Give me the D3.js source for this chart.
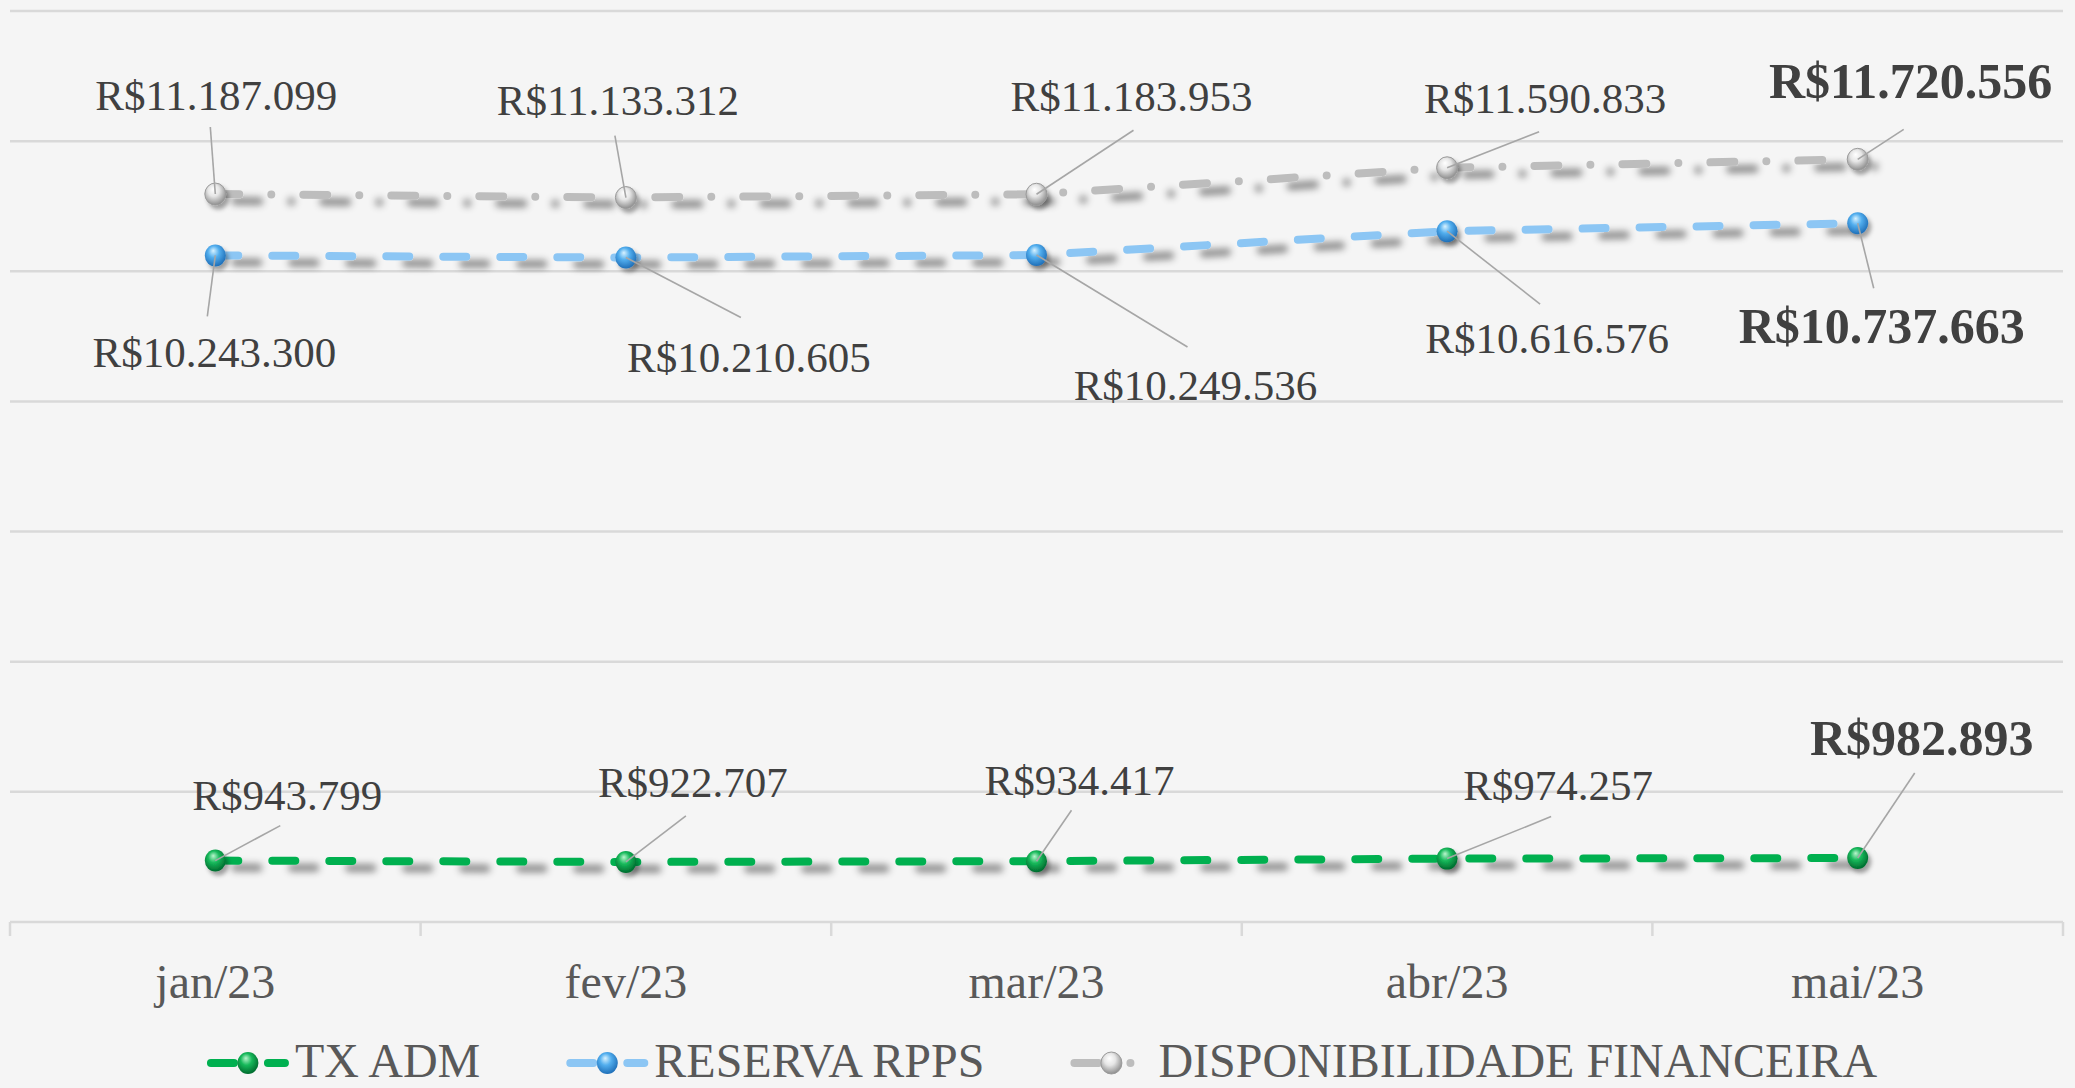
<!DOCTYPE html>
<html>
<head>
<meta charset="utf-8">
<script src="https://cdn.jsdelivr.net/npm/d3@7"></script>
<style>
  html, body { margin: 0; padding: 0; background: #F5F5F5; }
  svg { display: block; }
</style>
</head>
<body>
<svg id="chart" width="2075" height="1088"></svg>
<script>
// ---------------- data ----------------
const categories = ["jan/23", "fev/23", "mar/23", "abr/23", "mai/23"];
const txAdm = [943799, 922707, 934417, 974257, 982893];
const reservaRpps = [10243300, 10210605, 10249536, 10616576, 10737663];
const dispFinanceira = [11187099, 11133312, 11183953, 11590833, 11720556];
const seriesNames = ["TX ADM", "RESERVA RPPS", "DISPONIBILIDADE FINANCEIRA"];
const yTicks = [0, 2000000, 4000000, 6000000, 8000000, 10000000, 12000000, 14000000];

// ---------------- layout / style ----------------
const W = 2075, H = 1088;
const plot = { left: 10, right: 2063, top: 11, bottom: 922 };
const colors = { tx: "#00B050", res: "#8CC6F4", disp: "#BDBDBD" };
// label offsets relative to the point: [labelDx, labelDy(baseline), leaderDx, leaderDy]
const labelLayout = {
  disp: [[1, -84, -5, -67], [-8, -83, -11, -62], [95, -83, 97, -64], [98, -55, 92, -36], [53, -61, 46, -30]],
  res:  [[-1, 112, -8, 61], [123, 114, 115, 60], [159, 145, 151, 92], [100, 122, 93, 73], [24, 120, 16, 65]],
  tx:   [[72, -51, 65, -35], [67, -65, 60, -46], [43, -66, 35, -51], [111, -59, 104, -42], [64, -103, 57, -85]]
};

const svg = d3.select("#chart");
const defs = svg.append("defs");

// background
svg.append("rect").attr("width", W).attr("height", H).attr("fill", "#F5F5F5");

// shadow filter (user space so flat lines are not clipped)
function makeShadow(id, dx, dy, blur, op) {
  const f = defs.append("filter").attr("id", id)
    .attr("filterUnits", "userSpaceOnUse")
    .attr("x", 0).attr("y", 0).attr("width", W).attr("height", H);
  f.append("feGaussianBlur").attr("in", "SourceAlpha").attr("stdDeviation", blur).attr("result", "b");
  f.append("feOffset").attr("in", "b").attr("dx", dx).attr("dy", dy).attr("result", "o");
  f.append("feFlood").attr("flood-color", "#000").attr("flood-opacity", op).attr("result", "c");
  f.append("feComposite").attr("in", "c").attr("in2", "o").attr("operator", "in").attr("result", "s");
  const m = f.append("feMerge");
  m.append("feMergeNode").attr("in", "s");
  m.append("feMergeNode").attr("in", "SourceGraphic");
}
makeShadow("lineShadow", 20, 7, 3.5, 0.42);
makeShadow("dotShadow", 3, 4, 2, 0.35);

// sphere gradients
function sphere(id, c0, c1, c2) {
  const g = defs.append("radialGradient").attr("id", id)
    .attr("cx", "45%").attr("cy", "40%").attr("r", "60%").attr("fx", "40%").attr("fy", "28%");
  g.append("stop").attr("offset", "0%").attr("stop-color", c0);
  g.append("stop").attr("offset", "45%").attr("stop-color", c1);
  g.append("stop").attr("offset", "100%").attr("stop-color", c2);
}
sphere("gTx", "#B8F5CC", "#16B85A", "#006B2E");
sphere("gRes", "#D8F2FF", "#52AEEE", "#1F6FB8");
sphere("gDisp", "#FFFFFF", "#E6E6E6", "#8E8E8E");

// scales
const x = d3.scaleBand().domain(categories).range([plot.left, plot.right]).padding(0);
const y = d3.scaleLinear().domain([0, 14000000]).range([plot.bottom, plot.top]);
const cx = c => x(c) + x.bandwidth() / 2;

// gridlines
svg.append("g").selectAll("line").data(yTicks.slice(1)).join("line")
  .attr("x1", plot.left).attr("x2", plot.right)
  .attr("y1", d => y(d)).attr("y2", d => y(d))
  .attr("stroke", "#D9D9D9").attr("stroke-width", 2.5);

// x axis
const xAxis = d3.axisBottom(x).tickSize(0).tickPadding(0);
const axG = svg.append("g").attr("transform", `translate(0,${y(0)})`).call(xAxis);
axG.select(".domain").remove();
axG.selectAll(".tick text")
  .attr("y", 76).attr("dy", 0)
  .attr("font-family", "'Liberation Serif', 'Times New Roman', serif")
  .attr("font-size", 48).attr("fill", "#595959");
svg.append("line").attr("x1", plot.left).attr("x2", plot.right)
  .attr("y1", y(0)).attr("y2", y(0)).attr("stroke", "#D9D9D9").attr("stroke-width", 2.5);
const boundaries = categories.map(c => x(c)).concat([plot.right]);
svg.append("g").selectAll("line").data(boundaries).join("line")
  .attr("x1", d => d).attr("x2", d => d)
  .attr("y1", y(0)).attr("y2", y(0) + 14)
  .attr("stroke", "#D9D9D9").attr("stroke-width", 2.5);

// series
const series = [
  { key: "tx", name: seriesNames[0], values: txAdm, color: colors.tx, dash: "23,34", grad: "gTx" },
  { key: "res", name: seriesNames[1], values: reservaRpps, color: colors.res, dash: "23,34", grad: "gRes" },
  { key: "disp", name: seriesNames[2], values: dispFinanceira, color: colors.disp, dash: "24,32,0,32", grad: "gDisp" }
];

const line = d3.line().x((d, i) => cx(categories[i])).y(d => y(d));

const linesG = svg.append("g");
series.forEach(s => {
  linesG.append("path").datum(s.values)
    .attr("d", line)
    .attr("fill", "none")
    .attr("stroke", s.color)
    .attr("stroke-width", 8)
    .attr("stroke-linecap", "round")
    .attr("stroke-dasharray", s.dash)
    .attr("filter", "url(#lineShadow)");
});

const dotsG = svg.append("g");
series.forEach(s => {
  dotsG.selectAll(null).data(s.values).join("ellipse")
    .attr("cx", (d, i) => cx(categories[i]))
    .attr("cy", d => y(d))
    .attr("rx", 10.5).attr("ry", 11)
    .attr("fill", `url(#${s.grad})`)
    .attr("stroke", s.key === "disp" ? "#9A9A9A" : "none")
    .attr("stroke-width", 1)
    .attr("filter", "url(#dotShadow)");
});

// leader lines and labels
const brl = d3.formatLocale({ decimal: ",", thousands: ".", grouping: [3], currency: ["R$", ""] });
const fmt = brl.format("$,.0f");
const labG = svg.append("g");
series.forEach(s => {
  s.values.forEach((v, i) => {
    const px = cx(categories[i]), py = y(v);
    const L = labelLayout[s.key][i];
    labG.append("line")
      .attr("x1", px).attr("y1", py)
      .attr("x2", px + L[2]).attr("y2", py + L[3])
      .attr("stroke", "#A6A6A6").attr("stroke-width", 1.6);
    const last = i === s.values.length - 1;
    labG.append("text")
      .attr("x", px + L[0]).attr("y", py + L[1])
      .attr("text-anchor", "middle")
      .attr("font-family", "'Liberation Serif', 'Times New Roman', serif")
      .attr("font-size", last ? 50 : 43)
      .attr("font-weight", last ? "bold" : "normal")
      .attr("fill", "#404040")
      .text(fmt(v));
  });
});

// legend
const legG = svg.append("g");
const legY = 1063;
let lx = 0;
series.forEach((s, k) => {
  const g = legG.append("g").attr("transform", `translate(${lx},0)`);
  g.append("path").attr("d", `M4,${legY}H78`)
    .attr("stroke", s.color).attr("stroke-width", 8)
    .attr("stroke-linecap", "round").attr("stroke-dasharray", s.dash).attr("fill", "none");
  g.append("ellipse").attr("cx", 41).attr("cy", legY).attr("rx", 10.5).attr("ry", 11)
    .attr("fill", `url(#${s.grad})`)
    .attr("stroke", s.key === "disp" ? "#9A9A9A" : "none");
  const t = g.append("text").attr("x", 88).attr("y", 1077)
    .attr("font-family", "'Liberation Serif', 'Times New Roman', serif")
    .attr("font-size", 48).attr("fill", "#595959").text(s.name);
  const w = t.node().getComputedTextLength();
  lx += 88 + w + 86;
});
const legW = lx - 86;
legG.attr("transform", `translate(${1042 - legW / 2},0)`);
</script>
</body>
</html>
